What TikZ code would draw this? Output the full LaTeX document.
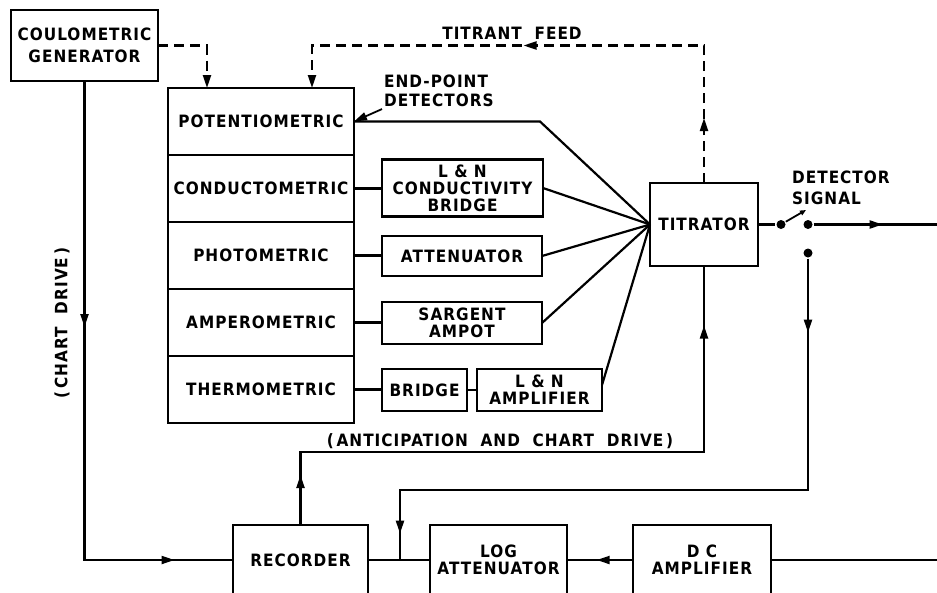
\documentclass[tikz,border=0pt]{standalone}
\usepackage{fontspec}
\usetikzlibrary{arrows.meta,positioning,calc,decorations.markings}
\newfontfamily\leroy[LetterSpace=6,FakeStretch=0.9]{DejaVu Sans}
\newcommand{\lbl}{\leroy\bfseries\fontsize{17}{17}\selectfont}

\begin{document}
\begin{tikzpicture}[
  x=1pt,y=-1pt,
  font=\lbl,
  line width=2.2pt,
  box/.style={draw,align=center,inner sep=2pt,outer sep=0pt},
  row/.style={box,minimum width=186pt,minimum height=67pt},
  txt/.style={inner sep=1pt,align=left},
  dot/.style={circle,fill,inner sep=0pt,minimum size=9pt},
  feed/.style={dash pattern=on 10pt off 6pt},
  midtip/.style={postaction={decorate,decoration={markings,mark=at position #1 with {\arrow{>}}}}},
  >={Triangle[length=13pt,width=8pt]}
]
\useasboundingbox (0,0) rectangle (937,592);
\clip (0,0) rectangle (937,592);
% generator and detectors
\node[box,minimum width=147pt,minimum height=71pt] (coul) at (84.5,45.5) {COULOMETRIC\\[5pt]GENERATOR};
\node[row] (pot) at (261,121.5) {POTENTIOMETRIC};
\node[row] (cond) [below=0pt of pot] {CONDUCTOMETRIC};
\node[row] (phot) [below=0pt of cond] {PHOTOMETRIC};
\node[row] (ampm) [below=0pt of phot] {AMPEROMETRIC};
\node[row] (therm) [below=0pt of ampm] {THERMOMETRIC};
% signal conditioning
\node[box,minimum width=161pt,minimum height=57pt] (cbr) at (462.5,188) {L \& N\\CONDUCTIVITY\\BRIDGE};
\node[box,minimum width=160pt,minimum height=40pt] (att) at (462,256) {ATTENUATOR};
\node[box,minimum width=160pt,minimum height=42pt] (sarg) at (462,323) {SARGENT\\AMPOT};
\node[box,minimum width=85pt,minimum height=42pt] (brg) at (424.5,390) {BRIDGE};
\node[box,minimum width=125pt,minimum height=42pt] (lna) [right=10pt of brg] {L \& N\\AMPLIFIER};
\node[box,minimum width=108pt,minimum height=83pt] (titr) at (704,224.5) {TITRATOR};
% recording chain
\node[box,minimum width=135pt,minimum height=70pt] (rec) at (300.5,560) {RECORDER};
\node[box,minimum width=137pt,minimum height=70pt] (log) at (498.5,560) {LOG\\ATTENUATOR};
\node[box,minimum width=138pt,minimum height=70pt] (dca) at (702,560) {D C\\AMPLIFIER};
% labels
\node[txt] (feedlbl) at (512,33) {TITRANT\ \ FEED};
\node[txt,anchor=north west] (epd) at (382,73) {END-POINT\\[2pt]DETECTORS};
\node[txt] (acdl) at (500,441) {(\,ANTICIPATION\ \ AND\ \ CHART\ \ DRIVE\,)};
\node[txt,rotate=90] (cdl) at (62,323) {(\,CHART\ \ DRIVE\,)};
\node[txt,anchor=north west] (dsl) at (790,169) {DETECTOR\\[4pt]SIGNAL};
% switch
\node[dot] (s1) at (781,224.5) {};
\node[dot] (s2) at (808,224.5) {};
\node[dot] (s3) at (808,253) {};
\coordinate (blade) at (806,210);
\coordinate (sigout) at (945,224.5);
\coordinate (bend) at (540,121.5);
\coordinate (ac) at (300.5,452);
\coordinate (fbk) at (400,490);
\coordinate (jn) at (400,560);
\coordinate (dcout) at (945,560);
% detector outputs
\draw (pot.east) -- (bend) -- (titr.west);
\draw (cond.east) -- (cond.east -| cbr.west);
\draw (phot.east) -- (phot.east -| att.west);
\draw (ampm.east) -- (ampm.east -| sarg.west);
\draw (therm.east) -- (therm.east -| brg.west);
\draw (brg) -- (lna);
\foreach \n in {cbr,att,sarg} \draw (\n.east) -- (titr.west);
\draw ([yshift=5pt]lna.east) -- (titr.west);
\draw[->,line width=1.8pt] (epd.south west) -- (pot.east);
% titrant feed
\draw[feed,->] (coul.east) -| ([xshift=-54pt]pot.north);
\draw[feed,->,midtip=65pt,midtip=318pt] (titr.north) -- (titr.north |- coul.east) -| ([xshift=51pt]pot.north);
% chart drive
\draw[midtip=246pt,midtip=569pt] (coul.south) |- (rec.west);
\draw[midtip=50pt,midtip=603pt] (rec.north) -- (ac) -| (titr.south);
% detector signal
\draw (titr.east) -- (s1);
\draw[-{Triangle[length=6pt,width=5pt]},line width=1.8pt] (s1) -- (blade);
\draw[midtip=69pt] (s2) -- (sigout);
\draw[midtip=74pt,midtip=683pt] (s3) |- (fbk) -- (jn);
\draw (rec) -- (log);
\draw[midtip=0.55] (dca) -- (log);
\draw (dca) -- (dcout);
\end{tikzpicture}
\end{document}
